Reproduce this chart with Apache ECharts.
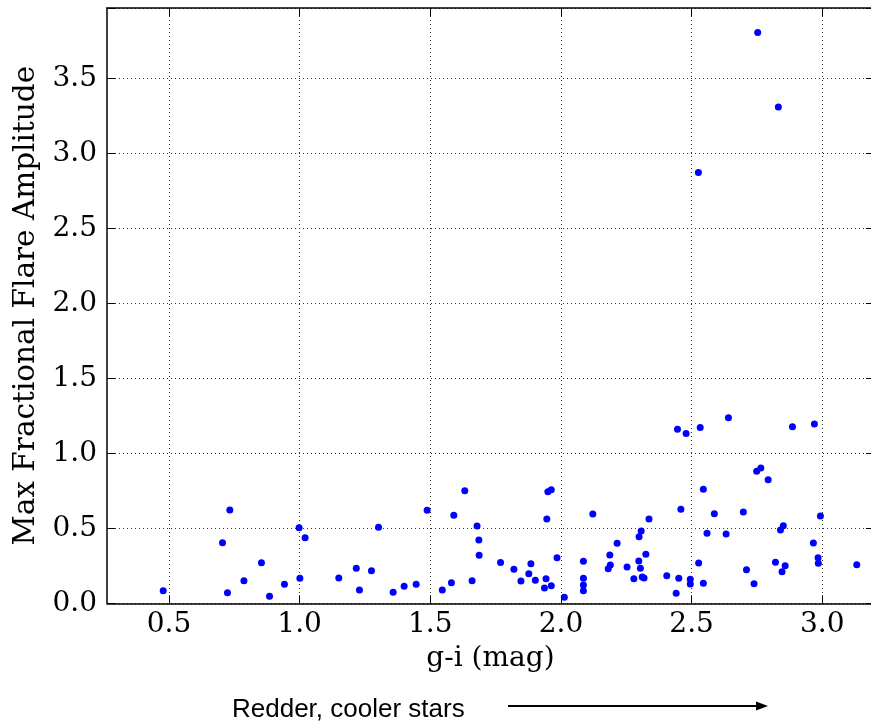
<!DOCTYPE html>
<html><head><meta charset="utf-8">
<script src="https://cdn.jsdelivr.net/npm/echarts@6/dist/echarts.min.js"></script>
<style>html,body{margin:0;padding:0;background:#fff}#c{width:871px;height:726px}</style>
</head><body><div id="c"></div>
<script>
// g-i colour (mag)
const gi = [0.478,0.733,0.705,0.724,0.787,0.854,0.885,0.942,0.998,1.001,1.021,
1.150,1.217,1.229,1.275,1.302,1.358,1.400,1.446,1.488,1.546,1.581,1.590,1.632,1.660,1.679,1.686,1.687,1.769,
1.820,1.847,1.877,1.885,1.902,1.937,1.943,1.963,1.946,1.950,1.963,1.985,2.013,2.086,2.086,2.086,2.086,2.122,
2.181,2.187,2.189,2.215,2.253,2.279,2.298,2.299,2.307,2.304,2.311,2.318,2.325,2.337,2.405,2.441,2.451,2.459,
2.446,2.479,2.533,2.641,2.886,2.970,2.749,2.765,2.793,2.545,2.587,2.698,2.993,2.840,2.851,2.559,2.632,2.966,
2.527,2.710,2.821,2.858,2.846,2.984,2.985,3.132,2.495,2.495,2.545,2.739,2.753,2.832,2.526];
// max fractional flare amplitude
const amp = [0.084,0.622,0.404,0.071,0.151,0.271,0.047,0.127,0.504,0.167,0.437,
0.169,0.233,0.089,0.217,0.507,0.073,0.113,0.127,0.620,0.089,0.137,0.587,0.751,0.151,0.515,0.422,0.320,0.272,
0.227,0.149,0.197,0.264,0.153,0.102,0.164,0.117,0.562,0.744,0.757,0.304,0.040,0.280,0.167,0.122,0.084,0.595,
0.231,0.322,0.255,0.400,0.242,0.164,0.282,0.444,0.482,0.233,0.175,0.169,0.327,0.562,0.184,0.067,0.167,0.627,
1.160,1.133,1.173,1.237,1.177,1.195,0.880,0.902,0.824,0.760,0.597,0.609,0.582,0.489,0.517,0.467,0.462,0.402,
0.269,0.224,0.273,0.251,0.211,0.304,0.267,0.257,0.160,0.129,0.133,0.131,3.807,3.309,2.873];

const xTitle = 'g-i (mag)';
const yTitle = 'Max Fractional Flare Amplitude';
const note = 'Redder, cooler stars';

// axis ranges
const xMin = 0.263, xMax = 3.198;
const yMin = 0, yMax = 3.97;
const step = 0.5;

const pts = gi.map((v,i)=>[v,amp[i]]);
const serif = 'DejaVu Serif';
const fmt = v => (Math.abs(v/step-Math.round(v/step))<1e-6) ? v.toFixed(1) : '';
const axLine = {show:true, onZero:false, lineStyle:{color:'#000', width:1.5}};
const noLine = {show:false};
const tick = {show:true, inside:true, length:8, lineStyle:{color:'#000', width:1}};
const gridLine = {show:true, lineStyle:{color:'#333', width:1, type:[1,3]}};
const labelStyle = {formatter:fmt, fontFamily:serif, fontSize:28, color:'#000'};

// plot area geometry
const L = 107, T = 8, R = 874, B = 603.3;
const pxPerX = (R - L) / (xMax - xMin);
// tick grid: x range [step, 7*step] aligned on the same pixel scale
const tMin = step, tMax = 7*step;
const tL = L + (tMin - xMin) * pxPerX;
const tR = L + (tMax - xMin) * pxPerX;

const chart = echarts.init(document.getElementById('c'), null, {renderer:'canvas'});
chart.setOption({
  animation:false,
  grid:[
    {left:L, top:T, width:R-L, height:B-T, containLabel:false, outerBoundsMode:'none'},
    {left:tL, top:T, width:tR-tL, height:B-T, containLabel:false, outerBoundsMode:'none'}
  ],
  xAxis:[
    {gridIndex:0, type:'value', position:'bottom', min:xMin, max:xMax,
     axisLine:axLine, axisTick:{show:false}, splitLine:{show:false}, axisLabel:{show:false},
     name:xTitle, nameLocation:'middle', nameGap:41,
     nameTextStyle:{fontFamily:serif, fontSize:28, color:'#000'}},
    {gridIndex:0, type:'value', position:'top', min:xMin, max:xMax,
     axisLine:axLine, axisTick:{show:false}, splitLine:{show:false}, axisLabel:{show:false}},
    {gridIndex:1, type:'value', position:'bottom', min:tMin, max:tMax, interval:step,
     axisLine:noLine, axisTick:tick, splitLine:gridLine,
     axisLabel:Object.assign({margin:7}, labelStyle)},
    {gridIndex:1, type:'value', position:'top', min:tMin, max:tMax, interval:step,
     axisLine:noLine, axisTick:tick, splitLine:{show:false}, axisLabel:{show:false}}
  ],
  yAxis:[
    {gridIndex:0, type:'value', position:'left', min:yMin, max:yMax, interval:step,
     axisLine:axLine, axisTick:tick, splitLine:gridLine,
     axisLabel:Object.assign({margin:10}, labelStyle),
     name:yTitle, nameLocation:'middle', nameGap:62, nameRotate:90,
     nameTextStyle:{fontFamily:serif, fontSize:29.5, color:'#000'}},
    {gridIndex:0, type:'value', position:'right', min:yMin, max:yMax, interval:step,
     axisLine:axLine, axisTick:tick, splitLine:{show:false}, axisLabel:{show:false}},
    {gridIndex:1, type:'value', show:false, min:yMin, max:yMax}
  ],
  series:[{type:'scatter', data:pts, symbol:'circle', symbolSize:7,
    itemStyle:{color:'#0000ff', opacity:1}, xAxisIndex:0, yAxisIndex:0, z:5}],
  graphic:[
    {type:'text', left:232, top:697, style:{text:note, font:'26px "Liberation Sans", Arial, sans-serif', fill:'#000'}},
    {type:'line', shape:{x1:508, y1:706, x2:758, y2:706}, style:{stroke:'#000', lineWidth:2}},
    {type:'polygon', shape:{points:[[768,706],[756,701.5],[756,710.5]]}, style:{fill:'#000'}}
  ]
});
</script></body></html>
